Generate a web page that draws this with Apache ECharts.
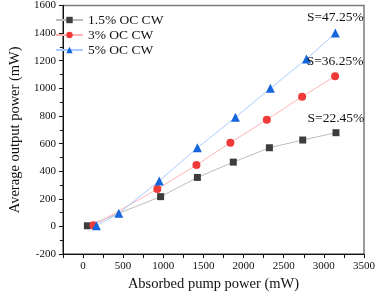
<!DOCTYPE html>
<html>
<head>
<meta charset="utf-8">
<script src="https://cdn.jsdelivr.net/npm/echarts@6/dist/echarts.min.js"></script>
<style>
html, body { margin: 0; padding: 0; background: #fff; }
#container { width: 378px; height: 297px; }
</style>
</head>
<body>
<div id="container"></div>
<script>
// absorbed pump power (mW) and output power (mW) per output coupler
var pump15 = [55, 967, 1425, 1872, 2322, 2737, 3151];
var out15 = [5, 216, 355, 466, 570, 626, 679];
var pump3 = [130, 926, 1413, 1836, 2290, 2729, 3140];
var out3 = [8, 271, 445, 607, 773, 940, 1088];
var pump5 = [167, 446, 950, 1425, 1899, 2334, 2784, 3143];
var out5 = [6, 95, 330, 570, 790, 1000, 1212, 1400];
var seriesNames = ['1.5% OC CW', '3% OC CW', '5% OC CW'];
var slopeLabels = ['S=22.45%', 'S=36.25%', 'S=47.25%'];

var font = '"Liberation Serif", serif';

function pairs(xs, ys) {
    var d = [];
    for (var i = 0; i < xs.length; i++) d.push([xs[i], ys[i]]);
    return d;
}

function withEndLabel(data, text) {
    var last = data.length - 1;
    return data.map(function (p, i) {
        if (i !== last) return p;
        return {
            value: p,
            label: {
                show: true, position: 'top', distance: 4,
                formatter: text, color: '#111', fontSize: 13.5, fontFamily: font
            }
        };
    });
}

var myChart = echarts.init(document.getElementById('container'));
var option = {
    backgroundColor: '#ffffff',
    animation: false,
    textStyle: {fontFamily: font},
    grid: {
        left: 50, right: 12, top: 5, bottom: 40,
        show: true, borderColor: '#7a7a7a', borderWidth: 1.5, backgroundColor: 'transparent'
    },
    legend: {
        orient: 'vertical',
        left: 50, top: 8,
        itemWidth: 27, itemHeight: 8, itemGap: 1,
        textStyle: {fontSize: 13.5, color: '#111', fontFamily: font},
        data: seriesNames
    },
    xAxis: {
        type: 'value',
        min: -250, max: 3500, interval: 250,
        name: 'Absorbed pump power (mW)',
        nameLocation: 'middle', nameGap: 22,
        nameTextStyle: {fontSize: 14.5, color: '#111', fontFamily: font},
        axisLine: {show: true, onZero: false, lineStyle: {color: '#111', width: 1}},
        axisTick: {show: true, inside: false, length: 4, lineStyle: {color: '#111'}},
        axisLabel: {
            fontSize: 11, color: '#111', margin: 7, fontFamily: font,
            formatter: function (v) { return (v % 500 === 0) ? String(v) : ''; }
        },
        splitLine: {show: false}
    },
    yAxis: {
        type: 'value',
        min: -200, max: 1600, interval: 200,
        name: 'Average output power (mW)',
        nameLocation: 'middle', nameGap: 34,
        nameTextStyle: {fontSize: 14.5, color: '#111', fontFamily: font},
        axisLine: {show: true, onZero: false, lineStyle: {color: '#111', width: 1}},
        axisTick: {show: true, inside: false, length: 4, lineStyle: {color: '#111'}},
        minorTick: {show: true, splitNumber: 2, length: 3, lineStyle: {color: '#111'}},
        axisLabel: {
            fontSize: 11, color: '#111', margin: 7, fontFamily: font,
            formatter: function (v) { return String(v); }
        },
        splitLine: {show: false}
    },
    series: [{
        name: seriesNames[0],
        type: 'line',
        symbol: 'rect', symbolSize: 7,
        itemStyle: {color: '#3d3d3d'},
        lineStyle: {color: '#bdbdbd', width: 1},
        data: withEndLabel(pairs(pump15, out15), slopeLabels[0])
    }, {
        name: seriesNames[1],
        type: 'line',
        symbol: 'circle', symbolSize: 8,
        itemStyle: {color: '#f03a3a'},
        lineStyle: {color: '#ffb4b4', width: 1},
        data: withEndLabel(pairs(pump3, out3), slopeLabels[1])
    }, {
        name: seriesNames[2],
        type: 'line',
        symbol: 'triangle', symbolSize: 9,
        itemStyle: {color: '#1565dc'},
        lineStyle: {color: '#a9cbff', width: 1},
        data: withEndLabel(pairs(pump5, out5), slopeLabels[2])
    }]
};
myChart.setOption(option);
</script>
</body>
</html>
